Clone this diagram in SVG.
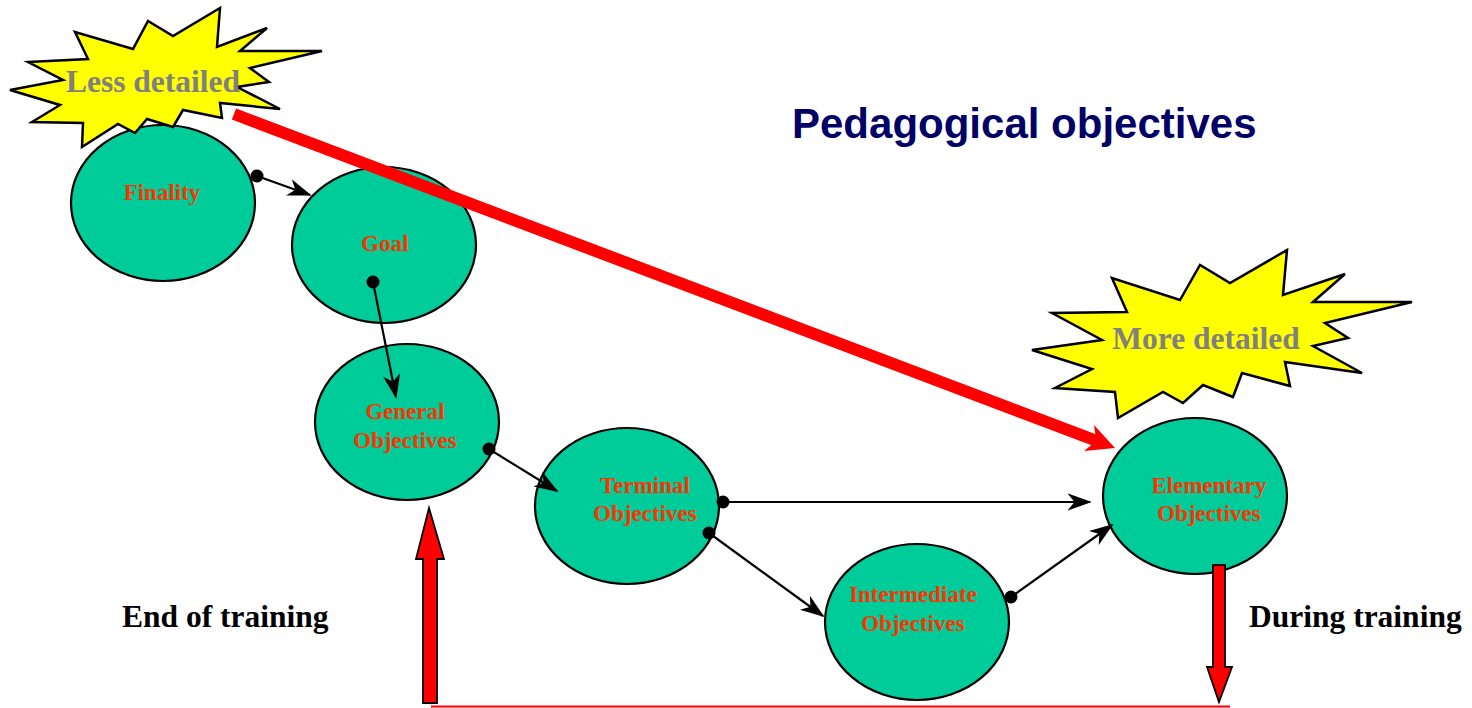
<svg xmlns="http://www.w3.org/2000/svg" width="1472" height="708" viewBox="0 0 1472 708">
<style>
.node ellipse{fill:#00CC99;stroke:#000;stroke-width:2.2}
.lbl{font-family:"Liberation Serif","Times New Roman",serif;font-weight:bold;font-size:23px;fill:#FF3300;text-anchor:middle}
.star polygon{fill:#FFFF00;stroke:#000;stroke-width:2.5;stroke-linejoin:miter}
.startxt{font-family:"Liberation Serif","Times New Roman",serif;font-weight:bold;font-size:31.5px;fill:#808080}
.big{font-family:"Liberation Serif","Times New Roman",serif;font-weight:bold;font-size:31.5px;fill:#000}
.conn line{stroke:#000;stroke-width:2.2;marker-end:url(#ah)}
.conn circle{fill:#000}
.block{fill:#FF0000;stroke:#000;stroke-width:1.8}
</style>
<defs>
<marker id="ah" viewBox="0 0 14 10" refX="13" refY="5" markerWidth="11" markerHeight="8" orient="auto" markerUnits="strokeWidth">
<path d="M0,0 L14,5 L0,10 L4,5 z" fill="#000"/>
</marker>
</defs>
<rect width="1472" height="708" fill="#fff"/>
<text x="792" y="138" font-family="'Liberation Sans',Arial,sans-serif" font-weight="bold" font-size="42px" fill="#000066">Pedagogical objectives</text>

<g id="finality" class="node"><ellipse cx="163" cy="203" rx="92" ry="78"/><text class="lbl" x="162" y="200">Finality</text></g>
<g id="less-detailed" class="star"><polygon points="10,90 63,80 28,62 88,59 75,32 133,49 148,21 173,36 220,8 217,47 267,28 240,51 322,51 250,68 269,82 237,87 280,109 220,103 222,118 183,110 173,127 147,119 135,133 118,124 82,147 83,123 32,122 60,105"/><text class="startxt" x="153" y="92" text-anchor="middle">Less detailed</text></g>
<g id="goal" class="node"><ellipse cx="384" cy="245" rx="92" ry="78"/><text class="lbl" x="385" y="251">Goal</text></g>
<g id="general" class="node"><ellipse cx="407" cy="422" rx="92" ry="78"/><text class="lbl" x="405" y="419">General</text><text class="lbl" x="405" y="448">Objectives</text></g>
<g id="terminal" class="node"><ellipse cx="627" cy="506" rx="92" ry="78"/><text class="lbl" x="645" y="493">Terminal</text><text class="lbl" x="645" y="521">Objectives</text></g>
<g id="intermediate" class="node"><ellipse cx="917" cy="622" rx="92" ry="78"/><text class="lbl" x="913" y="602">Intermediate</text><text class="lbl" x="913" y="631">Objectives</text></g>
<g id="elementary" class="node"><ellipse cx="1195" cy="496" rx="92" ry="78"/><text class="lbl" x="1209" y="493">Elementary</text><text class="lbl" x="1209" y="521">Objectives</text></g>
<g id="more-detailed" class="star"><polygon points="1032,350 1102,340 1052,313 1127,312 1112,278 1180,300 1200,265 1230,283 1287,250 1283,295 1345,274 1313,302 1412,302 1325,323 1348,338 1313,346 1362,373 1285,362 1290,386 1242,373 1233,397 1203,385 1183,403 1163,392 1118,418 1115,392 1055,388 1092,369"/><text class="startxt" x="1206" y="349" text-anchor="middle">More detailed</text></g>

<g id="connectors" class="conn">
<line x1="257" y1="176" x2="310" y2="195"/><circle cx="257" cy="176" r="6.5"/>
<line x1="373" y1="282" x2="396" y2="397"/><circle cx="373" cy="282" r="6.5"/>
<line x1="489" y1="449" x2="557" y2="491"/><circle cx="489" cy="449" r="6.5"/>
<line x1="723" y1="502" x2="1090" y2="502"/><circle cx="723" cy="502" r="6.5"/>
<line x1="709" y1="533" x2="823" y2="616"/><circle cx="709" cy="533" r="6.5"/>
<line x1="1011" y1="597" x2="1112" y2="525"/><circle cx="1011" cy="597" r="6.5"/>
</g>

<g id="detail-arrow">
<line x1="234" y1="114" x2="1097" y2="441" stroke="#FF0000" stroke-width="12"/>
<polygon points="1115,448 1084,451 1096.3,440.9 1094,425" fill="#FF0000"/>
</g>
<g id="end-arrow"><polygon class="block" points="429,508 444,559 437,559 437,703 423,703 423,559 416,559"/></g>
<g id="during-arrow"><polygon class="block" points="1213,565 1225,565 1225,667 1232,667 1219,702 1207,667 1213,667"/></g>
<line x1="431" y1="706.5" x2="1230" y2="706.5" stroke="#FF0000" stroke-width="2"/>
<text class="big" x="122" y="627">End of training</text>
<text class="big" x="1249" y="627">During training</text>
</svg>
